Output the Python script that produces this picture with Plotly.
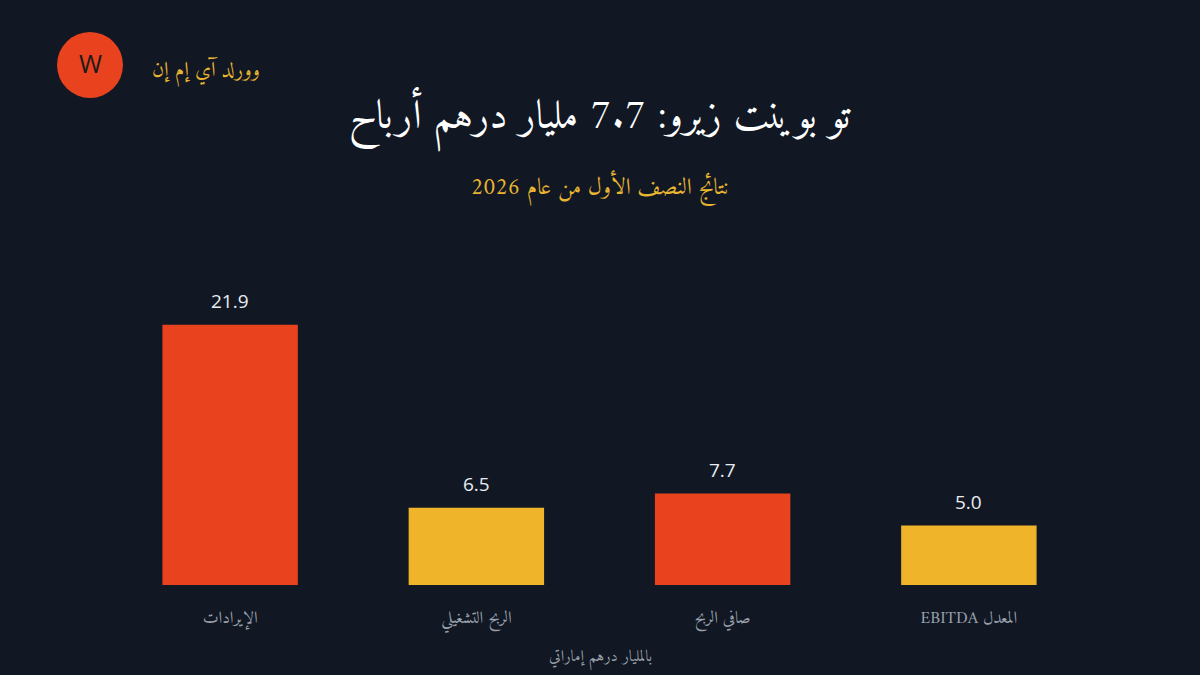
import plotly.graph_objects as go

categories = ["الإيرادات", "الربح التشغيلي", "صافي الربح", "EBITDA المعدل"]
values = [21.9, 6.5, 7.7, 5.0]
bar_colors = ["#E8431E", "#F0B42A", "#E8431E", "#F0B42A"]
value_labels = ["21.9", "6.5", "7.7", "5.0"]

BG = "#111824"
SERIF = "Amiri, 'Noto Naskh Arabic', 'DejaVu Serif', serif"

fig = go.Figure()
fig.add_trace(go.Bar(
    x=categories, y=values, marker=dict(color=bar_colors, line=dict(width=0)),
    width=0.55, hoverinfo="skip",
))

for c, v, t in zip(categories, values, value_labels):
    fig.add_annotation(x=c, y=v, text=t, showarrow=False, yanchor="bottom",
                       yshift=9, font=dict(family="Open Sans, sans-serif", size=19, color="#E8ECF1"))

L, T, W, H = 107, 288, 985, 297


def px(x):
    return (x - L) / W


def py(y):
    return (T + H - y) / H


fig.update_layout(
    width=1200, height=675,
    paper_bgcolor=BG, plot_bgcolor=BG,
    margin=dict(l=L, r=1200 - L - W, t=T, b=675 - T - H),
    showlegend=False,
    xaxis=dict(showgrid=False, zeroline=False, showline=False, ticks="",
               tickfont=dict(family=SERIF, size=17, color="#9AA1AB"),
               ticklabelstandoff=20, fixedrange=True),
    yaxis=dict(range=[0, 25], showgrid=False, zeroline=False, showline=False,
               showticklabels=False, fixedrange=True),
)

# logo
fig.add_shape(type="circle", xref="paper", yref="paper",
              x0=px(57), x1=px(123), y0=py(98), y1=py(32),
              fillcolor="#E8431E", line=dict(width=0))
fig.add_annotation(xref="paper", yref="paper", x=px(90), y=py(63), xanchor="center", yanchor="middle",
                   text="W", showarrow=False, font=dict(family="Open Sans, sans-serif", size=25, color="#1a1a1a"))
fig.add_annotation(xref="paper", yref="paper", x=px(150), y=py(70), xanchor="left", yanchor="middle",
                   text="وورلد آي إم إن", showarrow=False,
                   font=dict(family=SERIF, size=21, color="#E8B530"))

# titles
fig.add_annotation(xref="paper", yref="paper", x=px(600), y=py(118), xanchor="center", yanchor="middle",
                   text="تو بوينت زيرو: 7.7 مليار درهم أرباح", showarrow=False,
                   font=dict(family=SERIF, size=40.5, color="#FFFFFF"))
fig.add_annotation(xref="paper", yref="paper", x=px(600), y=py(188), xanchor="center", yanchor="middle",
                   text="نتائج النصف الأول من عام 2026", showarrow=False,
                   font=dict(family=SERIF, size=23, color="#E8B530"))
fig.add_annotation(xref="paper", yref="paper", x=px(600), y=py(657), xanchor="center", yanchor="middle",
                   text="بالمليار درهم إماراتي", showarrow=False,
                   font=dict(family=SERIF, size=16, color="#9AA1AB"))

fig.write_html("out.html", config={"displayModeBar": False},
               post_script="document.body.style.margin='0';document.body.style.background='%s';" % BG)
